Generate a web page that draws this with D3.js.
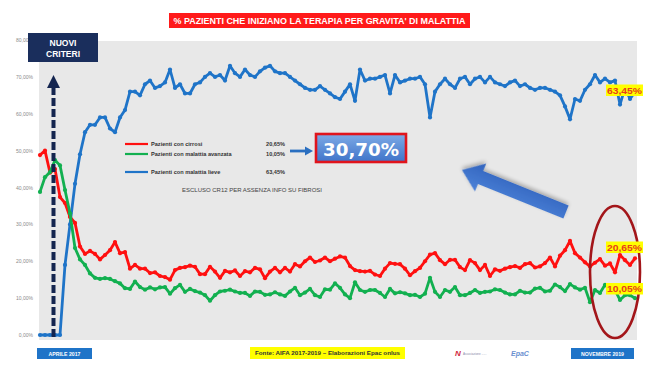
<!DOCTYPE html>
<html><head><meta charset="utf-8">
<script src="https://cdn.jsdelivr.net/npm/d3@7"></script>
<style>
html,body{margin:0;padding:0;background:#fff;}
svg{display:block;font-family:"Liberation Sans",Arial,sans-serif;}
</style></head>
<body><svg id="c" width="650" height="366"></svg>
<script>
// ---- DATA ----
const yTicks = [0,10,20,30,40,50,60,70,80];
const seriesNames = ["Pazienti con cirrosi","Pazienti con malattia avanzata","Pazienti con malattia lieve"];
const seriesAvg = ["20,65%","10,05%","63,45%"];
const blue = [0,0,0,0,0,19,30,41,49,55,57,57,59,59,56,55,59,61,66,66,65,68,69,67,67.5,68.5,72,67,68,65.5,
65.5,68,68.5,70,71,70,70.5,69,73,71,70,72,70.5,70,71.5,72.5,73,71.5,71,71,70,69,68,67,66.5,66.5,67.5,66.5,65.5,64.5,
64,66,68,63.5,72,69,69.5,69.5,70,70.5,65.5,70.5,68.5,69,69.5,69.5,70,68,59,66,68,69.5,68,67,69.5,70,68,69.5,70,68.5,
70,68.5,68,67.5,68.5,69,67.5,68,67,66.5,67,67,66.5,66,65,62,58.5,64,63.5,66.5,68,70.5,68.5,69.5,68.5,69,62.5,67,64,66];
const red = [48.8,50,44,45,37.4,35.8,32,30.4,24,22,22.8,22,20.5,21.7,23,25.2,22.2,22.5,18,19,18,18,16.8,17,16,15.7,15,17.6,18.2,18.4,
18.8,18.5,16.5,16.5,18.5,17.2,15.5,17.4,17,17.5,16,17.3,17,18.2,17.8,15.4,17.2,18.2,17,18.2,17.2,19.2,18.6,20,21,19.8,20.2,21,20,20.7,
21.3,21,18.7,17.6,17.3,17.2,17.4,16.4,16,18,19.5,19.3,19.2,18,16.2,17.3,18.2,20,21.8,22.2,20.3,19.2,20.4,20.4,18.4,17.6,20.3,19.5,17.6,19,
16,17.8,17.4,18,18.4,18.7,18.2,19.2,19.5,18.3,18.6,19.5,21,18.6,21.5,23,25.5,22.2,21,19.7,18.6,19.6,20.6,18.8,19.4,17,21.7,20.3,19,20.8];
const green = [38.8,42.8,44.2,47.4,46,39.3,33,23.6,20.5,19,16.7,15.5,15.2,15.4,15.2,14.6,14,12.7,12.5,14.5,13,12.3,12.9,12.4,12.9,13,11.2,12.7,13.6,11.7,
12.5,11.9,11.5,10.8,9.3,10.8,11.8,12,12.3,11.8,11.4,11.4,10.6,11.8,11.7,10.9,11,11.6,11,10.6,11.8,12.8,10.8,11.5,12.5,10.8,10.3,12.4,12.3,14,
12.8,11,10,14.3,12.2,11.7,12.2,12.2,11.4,10.3,12.5,11.3,11.6,11.3,10.8,10.9,10.3,11.2,15.5,11.7,10.3,12.2,11.7,13,10.8,10.8,11.4,12.2,11.4,11.7,
11.8,12.4,12.2,11.5,11,11,12,11.5,11.5,12.6,12.8,11.8,12,13.7,13,11.9,13.8,12.9,12.3,12.8,8.9,12.2,11.4,13.6,12.2,12.2,9.5,10.8,10.8,10];
const titleText = "% PAZIENTI CHE INIZIANO LA TERAPIA PER GRAVITA' DI MALATTIA";
const startLabel = "APRILE 2017", endLabel = "NOVEMBRE 2019";
const sourceText = "Fonte: AIFA 2017-2019  \u2013 Elaborazioni Epac onlus";
const totalText = "30,70%";
const noteText = "ESCLUSO CR12 PER ASSENZA INFO SU FIBROSI";

// ---- CHART ----
const svg = d3.select("#c");
const defs = svg.append("defs");
const N = blue.length;
const x = d3.scaleLinear().domain([0, N-1]).range([40, 635]);
const y = d3.scaleLinear().domain([0, 80]).range([335, 40]);

// plot background
svg.append("rect").attr("x",39).attr("y",41).attr("width",598).attr("height",299).attr("fill","#e8e8e8");

// y axis
const yAxis = d3.axisLeft(y).tickValues(yTicks).tickSize(0).tickPadding(0)
  .tickFormat(d => d3.format(".2f")(d).replace(".", ",") + "%");
const ya = svg.append("g").attr("transform","translate(33,0)").call(yAxis);
ya.select(".domain").remove();
ya.selectAll("text").attr("font-size",5).attr("fill","#8a8a8a").attr("font-family","Liberation Sans, Arial");

// series
const line = d3.line().x((d,i)=>x(i)).y(d=>y(d));
const series = [
  {data: blue, color:"#1f74c8"},
  {data: red, color:"#ff1010"},
  {data: green, color:"#12b050"}
];
series.forEach(s => {
  svg.append("path").datum(s.data).attr("d", line).attr("fill","none")
    .attr("stroke", s.color).attr("stroke-width",2.8).attr("stroke-linejoin","round");
  svg.append("g").selectAll("circle").data(s.data).join("circle")
    .attr("cx",(d,i)=>x(i)).attr("cy",d=>y(d)).attr("r",2.1).attr("fill",s.color);
});

// dashed vertical arrow
svg.append("line").attr("x1",53.5).attr("x2",53.5).attr("y1",337).attr("y2",86)
  .attr("stroke","#14254f").attr("stroke-width",4).attr("stroke-dasharray","8,3");
svg.append("path").attr("d","M47,88 L53.5,75 L60,88 Z").attr("fill","#14254f");

// NUOVI CRITERI box
svg.append("rect").attr("x",28).attr("y",33).attr("width",70).attr("height",29).attr("fill","#1a2e5c");
svg.append("text").attr("x",63).attr("y",45.5).attr("text-anchor","middle").attr("fill","#fff")
  .attr("font-weight","bold").attr("font-size",8.5).text("NUOVI");
svg.append("text").attr("x",63).attr("y",57).attr("text-anchor","middle").attr("fill","#fff")
  .attr("font-weight","bold").attr("font-size",8.5).text("CRITERI");

// title
svg.append("rect").attr("x",169).attr("y",13).attr("width",301).attr("height",15).attr("fill","#ff1a1a");
svg.append("text").attr("x",319.5).attr("y",23.8).attr("text-anchor","middle").attr("fill","#fff")
  .attr("font-weight","bold").attr("font-size",8.3).attr("textLength",292).attr("lengthAdjust","spacingAndGlyphs")
  .text(titleText);

// legend
const legColors = ["#ff1010","#12b050","#1f74c8"];
const legY = [144, 154, 172];
seriesNames.forEach((n,i) => {
  svg.append("line").attr("x1",125).attr("x2",148).attr("y1",legY[i]).attr("y2",legY[i])
    .attr("stroke",legColors[i]).attr("stroke-width",2.2);
  svg.append("text").attr("x",151).attr("y",legY[i]+2).attr("font-size",5.6).attr("font-weight","bold")
    .attr("fill","#333").text(n);
  svg.append("text").attr("x",285).attr("y",legY[i]+2).attr("text-anchor","end").attr("font-size",5.6)
    .attr("font-weight","bold").attr("fill","#333").text(seriesAvg[i]);
});
svg.append("text").attr("x",182).attr("y",192).attr("font-size",4.8).attr("fill","#444")
  .attr("textLength",140).attr("lengthAdjust","spacingAndGlyphs").text(noteText);

// small arrow to total box
svg.append("line").attr("x1",290).attr("x2",306).attr("y1",151).attr("y2",151)
  .attr("stroke","#2a6fc0").attr("stroke-width",2.8);
svg.append("path").attr("d","M305,146.5 L313,151 L305,155.5 Z").attr("fill","#2a6fc0");

// total box
const gb = defs.append("linearGradient").attr("id","gb").attr("x1",0).attr("y1",0).attr("x2",0).attr("y2",1);
gb.append("stop").attr("offset","0%").attr("stop-color","#7eaae6");
gb.append("stop").attr("offset","100%").attr("stop-color","#3f74c9");
svg.append("rect").attr("x",316).attr("y",134).attr("width",90).attr("height",28)
  .attr("fill","url(#gb)").attr("stroke","#e0141c").attr("stroke-width",2.6);
svg.append("text").attr("x",361).attr("y",156).attr("text-anchor","middle").attr("fill","#fff")
  .attr("font-family","DejaVu Sans, Verdana").attr("font-weight","bold").attr("font-size",18.5)
  .attr("textLength",76).attr("lengthAdjust","spacingAndGlyphs").text(totalText);

// big blue arrow
const f = defs.append("filter").attr("id","sh").attr("x","-20%").attr("y","-30%").attr("width","140%").attr("height","170%");
f.append("feGaussianBlur").attr("in","SourceAlpha").attr("stdDeviation",2);
f.append("feOffset").attr("dx",1).attr("dy",2);
f.append("feComponentTransfer").attr("result","ob").append("feFuncA").attr("type","linear").attr("slope",0.3);
const fm = f.append("feMerge"); fm.append("feMergeNode").attr("in","ob"); fm.append("feMergeNode").attr("in","SourceGraphic");
const ga = defs.append("linearGradient").attr("id","ga").attr("x1",0).attr("y1",0).attr("x2",0).attr("y2",1);
ga.append("stop").attr("offset","0%").attr("stop-color","#4c82d8");
ga.append("stop").attr("offset","100%").attr("stop-color","#3163bd");
const tx = 566, ty = 212, hx = 462, hy = 170;
const L = Math.hypot(hx-tx, hy-ty), ang = Math.atan2(hy-ty, hx-tx)*180/Math.PI;
svg.append("path").attr("transform",`translate(${tx},${ty}) rotate(${ang})`)
  .attr("d",`M0,-7 L${L-20},-7 L${L-20},-15 L${L},0 L${L-20},15 L${L-20},7 L0,7 Z`)
  .attr("fill","url(#ga)").attr("filter","url(#sh)");

// ellipse
svg.append("ellipse").attr("cx",615).attr("cy",272).attr("rx",25).attr("ry",66)
  .attr("fill","none").attr("stroke","#a3161a").attr("stroke-width",2.6);

// end labels
const endLab = [{t:seriesAvg[2], v:blue}, {t:seriesAvg[0], v:red}, {t:seriesAvg[1], v:green}];
const labY = [90.5, 247.5, 289];
endLab.forEach((d,i) => {
  svg.append("rect").attr("x",606).attr("y",labY[i]-6).attr("width",37).attr("height",11.5).attr("fill","#ffff00");
  svg.append("text").attr("x",624.5).attr("y",labY[i]+3).attr("text-anchor","middle").attr("font-size",8.2)
    .attr("font-weight","bold").attr("fill","#e8401a").attr("textLength",35).attr("lengthAdjust","spacingAndGlyphs").text(d.t);
});

// bottom labels
function bluebox(x0, w, t){
  svg.append("rect").attr("x",x0).attr("y",348).attr("width",w).attr("height",11).attr("fill","#1f74c8");
  svg.append("text").attr("x",x0+w/2).attr("y",355.6).attr("text-anchor","middle").attr("fill","#fff")
    .attr("font-size",5.2).attr("font-weight","bold").text(t);
}
bluebox(37, 55, startLabel);
bluebox(571, 63, endLabel);
svg.append("rect").attr("x",250).attr("y",347).attr("width",155).attr("height",12).attr("fill","#ffff00");
svg.append("text").attr("x",327.5).attr("y",355.3).attr("text-anchor","middle").attr("font-size",5.6)
  .attr("font-weight","bold").attr("fill","#333").attr("textLength",145).attr("lengthAdjust","spacingAndGlyphs").text(sourceText);

// logos (text)
svg.append("text").attr("x",455).attr("y",356).attr("font-size",8).attr("font-weight","bold").attr("fill","#d01f3c")
  .attr("font-style","italic").text("N");
svg.append("text").attr("x",463).attr("y",355).attr("font-size",3).attr("fill","#8a8aa8").text("Associazione ......");
svg.append("text").attr("x",511).attr("y",356).attr("font-size",7).attr("font-weight","bold").attr("fill","#6a8fd0")
  .attr("font-style","italic").text("EpaC");
</script></body></html>
